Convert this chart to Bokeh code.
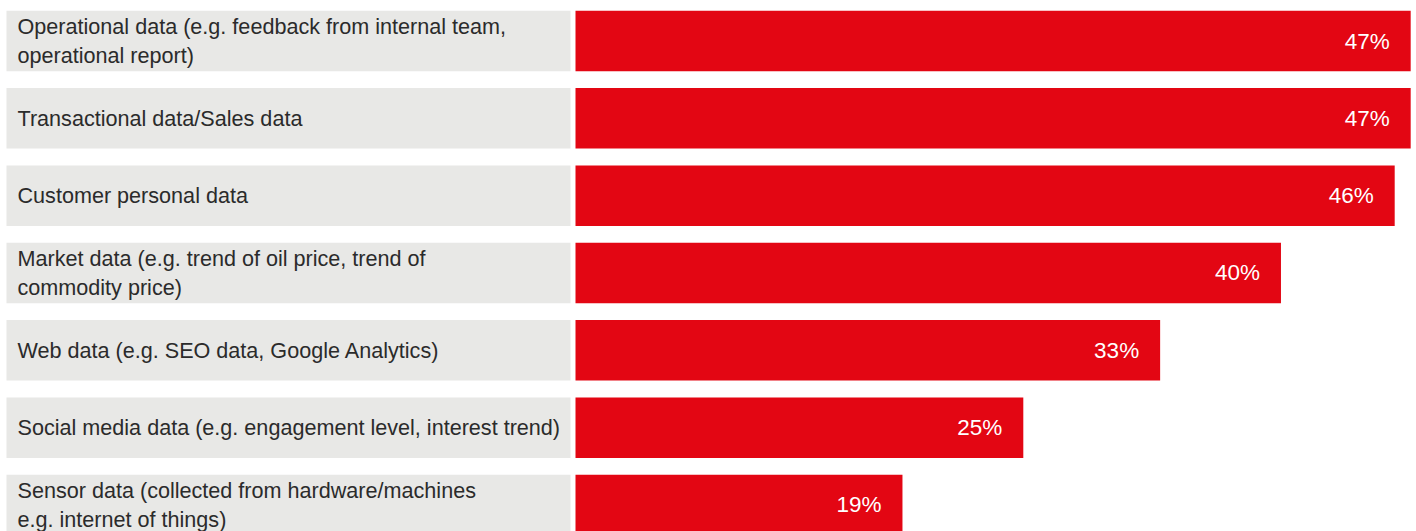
from bokeh.plotting import figure
from bokeh.models import Range1d, ColumnDataSource
from bokeh.embed import file_html
from bokeh.resources import INLINE
from bokeh.core.properties import value

categories = [
    "Operational data (e.g. feedback from internal team,\noperational report)",
    "Transactional data/Sales data",
    "Customer personal data",
    "Market data (e.g. trend of oil price, trend of\ncommodity price)",
    "Web data (e.g. SEO data, Google Analytics)",
    "Social media data (e.g. engagement level, interest trend)",
    "Sensor data (collected from hardware/machines\ne.g. internet of things)",
]
values = [47.0, 47.0, 46.1, 39.7, 32.9, 25.2, 18.4]
value_labels = ["47%", "47%", "46%", "40%", "33%", "25%", "19%"]

RED = "#E30613"
GREY = "#E8E8E6"
TEXT = "#2b2b2b"
FONT = "Liberation Sans"

W, H = 1416, 531
BAR_START_PX = 575
PX_PER_UNIT = 17.77
LABEL_LEFT = (6 - BAR_START_PX) / PX_PER_UNIT
LABEL_RIGHT = (570 - BAR_START_PX) / PX_PER_UNIT

ROW_PITCH = 77.33
FIRST_CENTER = 40.5
BAR_H = 60.5 / ROW_PITCH

idx = list(range(len(categories)))
src = ColumnDataSource(dict(
    y=idx, cat=categories, val=values, lab=value_labels,
    left0=[0] * len(idx),
    gl=[LABEL_LEFT] * len(idx), gr=[LABEL_RIGHT] * len(idx),
))

p = figure(width=W, height=H, output_backend="svg", toolbar_location=None,
           min_border=0, min_border_left=0, min_border_right=0,
           min_border_top=0, min_border_bottom=0)
p.x_range = Range1d(-BAR_START_PX / PX_PER_UNIT, (W - BAR_START_PX) / PX_PER_UNIT)
p.y_range = Range1d((H - FIRST_CENTER) / ROW_PITCH, -FIRST_CENTER / ROW_PITCH)
p.axis.visible = False
p.grid.visible = False
p.outline_line_color = None
p.background_fill_color = "white"
p.border_fill_color = "white"

p.hbar(y="y", left="gl", right="gr", height=BAR_H, source=src,
       fill_color=GREY, line_color=None)
p.hbar(y="y", left="left0", right="val", height=BAR_H, source=src,
       fill_color=RED, line_color=None)

p.text(x="gl", y="y", text="cat", source=src, x_offset=11,
       text_align="left", text_baseline="middle",
       text_font=value(FONT), text_font_size="21.6px", text_color=TEXT,
       text_line_height=1.15)
p.text(x="val", y="y", text="lab", source=src, x_offset=-21,
       text_align="right", text_baseline="middle",
       text_font=value(FONT), text_font_size="22.5px", text_color="white")

open("out.html", "w").write(file_html(p, INLINE))
